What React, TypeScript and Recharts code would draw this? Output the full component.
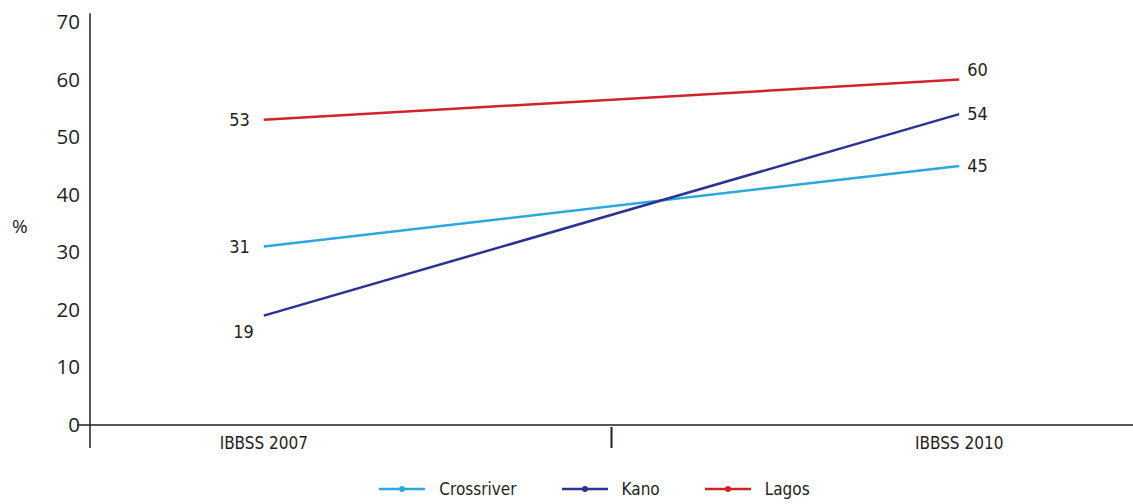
import React from "react";
import {
  LineChart,
  Line,
  XAxis,
  YAxis,
  Legend,
  LabelList,
  ReferenceLine,
} from "recharts";

const categories = ["IBBSS 2007", "IBBSS 2010"];
const crossriver = [31, 45];
const kano = [19, 54];
const lagos = [53, 60];
const yTicks = [0, 10, 20, 30, 40, 50, 60, 70];

const narrow = "'Liberation Sans Narrow', 'DejaVu Sans Condensed', 'Open Sans', sans-serif";
const ink = "#231f20";

const data = categories.map((name, i) => ({
  pos: i,
  name,
  Crossriver: crossriver[i],
  Kano: kano[i],
  Lagos: lagos[i],
}));

function XTick({ x, y, payload }: any) {
  const v = payload.value;
  if (v === 0.5) {
    return <line x1={x} x2={x} y1={y + 2} y2={y + 23} stroke="#2b1a1a" strokeWidth={2} />;
  }
  return (
    <text x={x} y={y + 24} textAnchor="middle" fontFamily={narrow} fontSize={17} fill={ink}>
      {categories[v]}
    </text>
  );
}

function YTick({ x, y, payload }: any) {
  return (
    <text x={x} y={y + 7} textAnchor="end" fontFamily="'Open Sans', sans-serif" fontSize={20.5} fill={ink}>
      {payload.value}
    </text>
  );
}

function PctLabel({ viewBox }: any) {
  const vb = viewBox || { x: 0, y: 0, height: 0 };
  return (
    <text
      x={vb.x + 12}
      y={vb.y + vb.height / 2 + 9}
      fontFamily="'Open Sans', sans-serif"
      fontSize={19}
      fill={ink}
    >
      %
    </text>
  );
}

// labels sit left of the first point and right of the last one
function pointLabel(leftDy: number, rightDy: number, leftDx = -14) {
  return (props: any) => {
    const { x, y, value, index } = props;
    const first = index === 0;
    return (
      <text
        x={first ? x + leftDx : x + 8}
        y={y + (first ? leftDy : rightDy)}
        textAnchor={first ? "end" : "start"}
        fontFamily={narrow}
        fontSize={18}
        fill={ink}
      >
        {value}
      </text>
    );
  };
}

function LegendBox({ payload }: any) {
  return (
    <div
      style={{
        display: "flex",
        justifyContent: "center",
        alignItems: "flex-end",
        height: 44,
        paddingLeft: 56,
        boxSizing: "border-box",
        fontFamily: narrow,
        fontSize: 17,
        color: ink,
      }}
    >
      {(payload || []).map((p: any, i: number) => (
        <div key={p.value} style={{ display: "flex", alignItems: "center", marginLeft: i ? 45 : 0 }}>
          <svg width={46} height={10} style={{ marginRight: 14 }}>
            <line x1={0} x2={46} y1={5} y2={5} stroke={p.color} strokeWidth={2.5} />
            <circle cx={23} cy={5} r={3} fill={p.color} />
          </svg>
          <span>{p.value}</span>
        </div>
      ))}
    </div>
  );
}

export default function App() {
  return (
    <div style={{ position: "absolute", left: 0, top: 0, background: "#fff" }}>
      <LineChart
        width={1133}
        height={504}
        data={data}
        margin={{ top: 22, right: 0, bottom: 5, left: 0 }}
      >
        <XAxis
          dataKey="pos"
          type="number"
          domain={[-0.25, 1.25]}
          ticks={[0, 0.5, 1]}
          tick={<XTick />}
          tickLine={false}
          tickSize={0}
          tickMargin={0}
          height={30}
          axisLine={{ stroke: ink, strokeWidth: 1.5 }}
          interval={0}
        />
        <YAxis
          domain={[0, 70]}
          ticks={yTicks}
          tick={<YTick />}
          tickLine={false}
          tickSize={0}
          tickMargin={10}
          width={90}
          axisLine={false}
          label={<PctLabel />}
        />
        <ReferenceLine
          segment={[{ x: -0.25, y: -4 }, { x: -0.25, y: 71.5 }]}
          stroke={ink}
          strokeWidth={1.5}
          ifOverflow="visible"
        />
        <ReferenceLine
          segment={[{ x: -0.268, y: 0 }, { x: -0.25, y: 0 }]}
          stroke={ink}
          strokeWidth={1.5}
          ifOverflow="visible"
        />
        <Legend verticalAlign="bottom" content={<LegendBox />} wrapperStyle={{ left: 0, width: 1133 }} height={44} />
        <Line dataKey="Crossriver" stroke="#29a9e0" strokeWidth={2.5} dot={false} isAnimationActive={false}>
          <LabelList dataKey="Crossriver" content={pointLabel(6, 6)} />
        </Line>
        <Line dataKey="Kano" stroke="#2e3192" strokeWidth={2.5} dot={false} isAnimationActive={false}>
          <LabelList dataKey="Kano" content={pointLabel(22, 6, -10)} />
        </Line>
        <Line dataKey="Lagos" stroke="#d2232a" strokeWidth={2.5} dot={false} isAnimationActive={false}>
          <LabelList dataKey="Lagos" content={pointLabel(6, -4)} />
        </Line>
      </LineChart>
    </div>
  );
}
